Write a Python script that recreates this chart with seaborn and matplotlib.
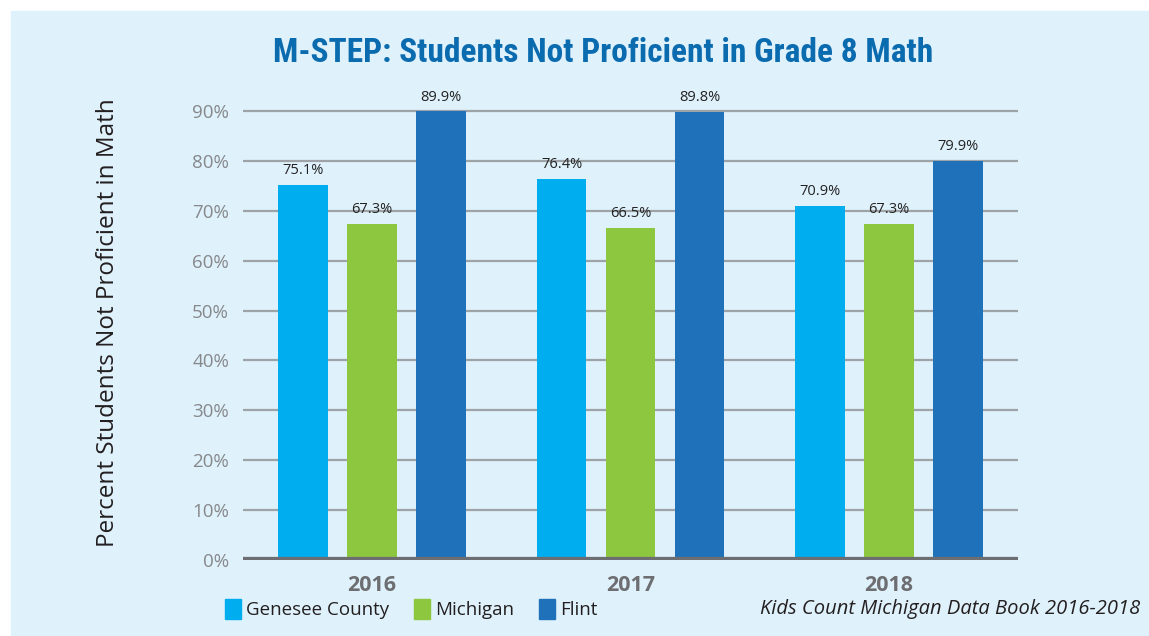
import matplotlib
matplotlib.use("Agg")
import matplotlib.pyplot as plt
import matplotlib.patches as mpatches
from matplotlib import font_manager
import seaborn as sns
import pandas as pd

# data
years = ["2016", "2017", "2018"]
areas = ["Genesee County", "Michigan", "Flint"]
genesee = [75.1, 76.4, 70.9]
michigan = [67.3, 66.5, 67.3]
flint = [89.9, 89.8, 79.9]
yticks = [0, 10, 20, 30, 40, 50, 60, 70, 80, 90]

colors = ["#00AEEF", "#8DC63F", "#1F72BA"]
bg = "#DFF1FB"

df = pd.DataFrame({
    "Year": years * 3,
    "Area": [a for a in areas for _ in years],
    "Value": genesee + michigan + flint,
})

# pick a narrow font for the title if one is installed
title_font = None
for name, stretch in [("Roboto Condensed", "normal"), ("Liberation Sans Narrow", "normal"),
                      ("DejaVu Sans", "condensed")]:
    try:
        path = font_manager.findfont(font_manager.FontProperties(family=name, stretch=stretch,
                                                                 weight="bold"),
                                     fallback_to_default=False)
        if "Narrow" in path or "Condensed" in path:
            title_font = path
            break
    except Exception:
        pass

sns.set_style("white")
plt.rcParams["font.family"] = ["Open Sans", "DejaVu Sans"]

fig = plt.figure(figsize=(11.49, 6.36), dpi=100)
fig.patch.set_facecolor("white")
# light blue panel with white strip at top and left
fig.patches.append(mpatches.Rectangle((11 / 1149, 0), 1, 1 - 11 / 636,
                                      transform=fig.transFigure, color=bg, zorder=-5))

ax = fig.add_axes([243 / 1149, 76 / 636, 775 / 1149, 459 / 636])
ax.set_facecolor("none")

sns.barplot(data=df, x="Year", y="Value", hue="Area", hue_order=areas,
            palette=colors, width=0.8, gap=0.28, saturation=1, ax=ax,
            legend=False, zorder=3, linewidth=0)

for cont in ax.containers:
    ax.bar_label(cont, labels=[f"{v:.1f}%" for v in cont.datavalues],
                 padding=5, fontsize=10.5, color="#222222")

ax.set_xlim(-0.5, 2.5)
ax.set_ylim(0, 92)
ax.set_yticks(yticks)
ax.set_yticklabels([f"{t}%" for t in yticks], fontsize=13.5, color="#86888B")
for t in yticks[1:]:
    ax.axhline(t, color="#9EA3A8", lw=1.6, zorder=1)
ax.axhline(0, color="#6D6E71", lw=4.5, zorder=4, solid_capstyle="butt")
ax.tick_params(axis="y", length=0, pad=10)
ax.tick_params(axis="x", length=0, pad=11)
for lbl in ax.get_xticklabels():
    lbl.set_fontsize(15.5)
    lbl.set_fontweight("bold")
    lbl.set_color("#6D6E71")
for s in ax.spines.values():
    s.set_visible(False)
ax.set_xlabel("")
ax.set_ylabel("Percent Students Not Proficient in Math", fontsize=17.5,
              color="#231F20")
ax.yaxis.set_label_coords(-0.159, 0.518)

if title_font:
    tprops = dict(fontproperties=font_manager.FontProperties(fname=title_font, size=24))
else:
    tprops = dict(fontsize=19, fontweight="bold", family=["DejaVu Sans"])
fig.text(603 / 1149, 1 - 53 / 636, "M-STEP: Students Not Proficient in Grade 8 Math",
         ha="center", va="center", color="#0B6BAF", **tprops)

handles = [mpatches.Patch(color=c, label=a) for c, a in zip(colors, areas)]
fig.legend(handles=handles, loc="center left", bbox_to_anchor=(208 / 1149, 1 - 609 / 636),
           ncol=3, frameon=False, fontsize=13.5, handlelength=0.85, handleheight=1.25,
           handletextpad=0.3, columnspacing=1.3, labelcolor="#231F20")

fig.text(1140 / 1149, 1 - 609 / 636, "Kids Count Michigan Data Book 2016-2018",
         ha="right", va="center", fontsize=14.5, style="italic", color="#231F20")

fig.savefig("out.png", dpi=100, facecolor=fig.get_facecolor())
